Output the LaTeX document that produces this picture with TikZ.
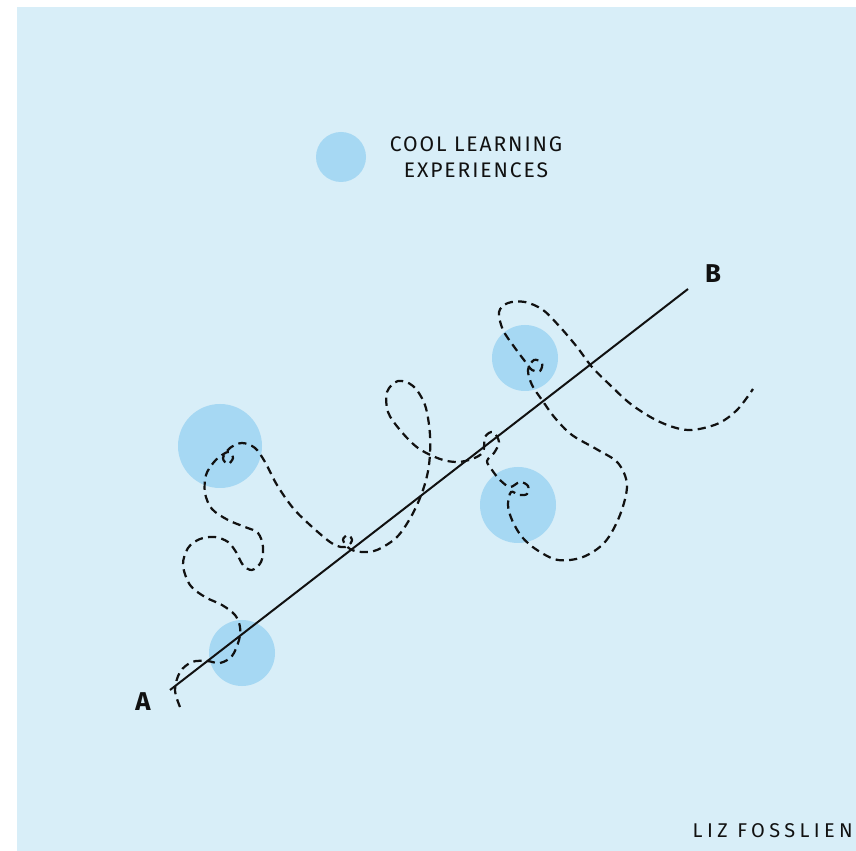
\documentclass[tikz,border=0pt]{standalone}
\usepackage{fontspec}
\setmainfont{Fira Sans}
\definecolor{bgblue}{HTML}{D8EEF8}
\definecolor{dotblue}{HTML}{A6D8F3}
\definecolor{ink}{HTML}{111111}
\begin{document}
\begin{tikzpicture}[x=0.03cm,y=-0.03cm,
  blob/.style={fill=dotblue,draw=none},
  path line/.style={draw=ink,line width=1.9pt,dash pattern=on 7pt off 4.5pt,line cap=butt},
  axis line/.style={draw=ink,line width=1.7pt},
  label text/.style={font=\fontsize{18}{22}\selectfont\addfontfeature{LetterSpace=9},text=ink,align=center,inner sep=0pt},
  sig text/.style={font=\fontsize{17}{20}\selectfont\addfontfeature{LetterSpace=22},text=ink,inner sep=0pt},
  end text/.style={font=\fontsize{22}{24}\selectfont\bfseries,text=ink,inner sep=0pt}]
\useasboundingbox (0,0) rectangle (856,851);
\fill[white] (0,0) rectangle (856,851);
\fill[bgblue] (17,7) rectangle (856,851);
% legend
\fill[blob] (341,157) circle (25);
\node[label text] (legend) at (476,157) {COOL LEARNING\\EXPERIENCES};
% experience circles
\fill[blob] (220,446) circle (42);
\fill[blob] (242,653) circle (33);
\fill[blob] (525,358) circle (33);
\fill[blob] (518,505) circle (38);
% A to B
\coordinate (pa) at (170,690);
\coordinate (pb) at (688,289);
\draw[axis line] (pa) -- (pb);
\node[end text] (A) at (143,702) {A};
\node[end text] (B) at (713,274) {B};
% wandering path
\draw[path line] plot[smooth,tension=0.55] coordinates {
 (180,707) (175,690) (180,672) (192,662) (207,661) (220,663) (232,656)
 (239,640) (240,627) (235,615) (222,605) (205,597) (190,585) (183,565)
 (188,548) (200,539) (215,537) (228,542) (236,552) (243,565) (252,570)
 (261,562) (263,547) (258,533) (245,527) (228,520) (212,509) (205,493)
 (206,475) (214,462) (222,455) (229,452) (233,458) (228,464) (223,458)
 (230,448) (242,443) (255,448) (265,462) (277,485) (293,508) (310,525)
 (330,542) (341,547) (348,546) (352,540) (348,535) (343,540) (350,549)
 (362,552) (377,550) (397,537) (412,515) (423,490) (429,465) (430,435)
 (425,405) (413,386) (398,381) (387,392) (388,412) (400,430) (418,448)
 (440,459) (457,462) (472,459) (483,452) (485,437) (493,432) (499,442)
 (494,453) (487,461) (492,470) (500,480) (510,487) (520,482) (528,486)
 (527,494) (519,495) (511,492) (508,505) (512,520) (522,537) (537,550)
 (558,560) (583,557) (605,542) (620,515) (627,485) (618,463) (598,450)
 (572,435) (555,418) (542,400) (532,385) (528,370) (534,360) (542,363)
 (540,371) (532,370) (524,360) (515,348) (503,330) (499,312) (508,303)
 (525,302) (543,310) (560,327) (577,347) (592,367) (610,385) (632,405)
 (660,422) (688,430) (717,424) (737,410) (753,389)};
% signature
\node[sig text,anchor=east] (sig) at (853,831) {LIZ FOSSLIEN};
\end{tikzpicture}
\end{document}
